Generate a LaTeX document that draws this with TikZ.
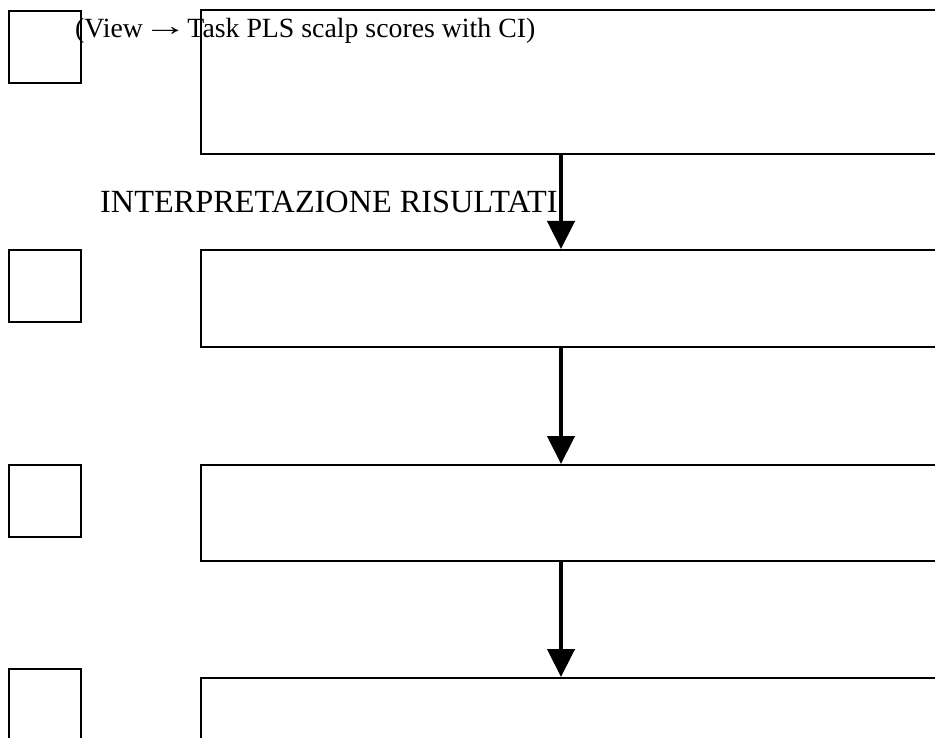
\documentclass[tikz,border=0pt]{standalone}
\usepackage{fontspec}
\setmainfont{Liberation Serif}
\usepackage{graphicx}
\usetikzlibrary{arrows.meta,calc}
\begin{document}
\begin{tikzpicture}[x=1pt,y=-1pt,
  smallbox/.style={draw,line width=1.7pt,rectangle,anchor=north west,inner sep=0pt,minimum width=72pt,minimum height=72pt},
  bigbox/.style={draw,line width=1.7pt,rectangle,anchor=north west,inner sep=0pt,minimum width=745pt},
  flowarrow/.style={line width=4.5pt,-{Triangle[width=27pt,length=28pt]}},
  label/.style={anchor=base west,inner sep=0pt}
]
\useasboundingbox (0,0) rectangle (935,738);
\clip (0,0) rectangle (935,738);
% small boxes
\node[smallbox] (s1) at (8,10) {};
\node[smallbox] (s2) at (8,249) {};
\node[smallbox] (s3) at (8,464) {};
\node[smallbox] (s4) at (8,668) {};
% big boxes
\node[bigbox,minimum height=144pt] (b1) at (200,9) {};
\node[bigbox,minimum height=97pt] (b2) at (200,249) {};
\node[bigbox,minimum height=96pt] (b3) at (200,464) {};
\node[bigbox,minimum height=80pt] (b4) at (200,677) {};
% texts
\node[label,font=\fontsize{27.8}{34}\selectfont] (t1) at (75,38) {(View\raisebox{2pt}{\scalebox{1.6}[1]{→}}Task PLS scalp scores with CI)};
\node[label,font=\fontsize{32.3}{38}\selectfont] (t2) at (100,213) {INTERPRETAZIONE RISULTATI};
% arrows
\coordinate (ax) at (561,0);
\draw[flowarrow] (b1.south west -| ax) -- (b2.north west -| ax);
\draw[flowarrow] (b2.south west -| ax) -- (b3.north west -| ax);
\draw[flowarrow] (b3.south west -| ax) -- (b4.north west -| ax);
\end{tikzpicture}
\end{document}
